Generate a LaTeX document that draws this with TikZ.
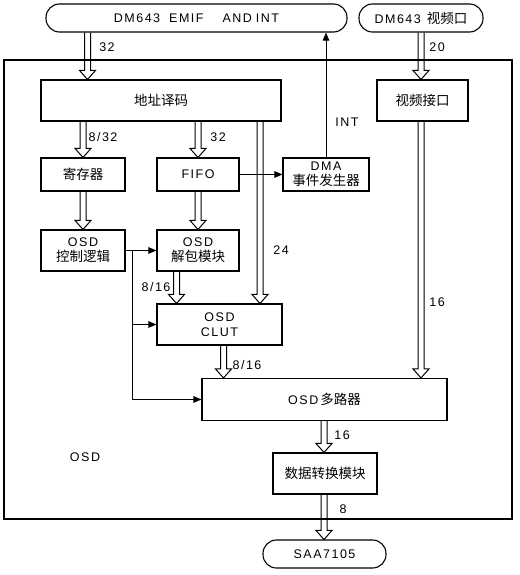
\documentclass[tikz,border=0pt]{standalone}
\usepackage{fontspec}
\setmainfont{Liberation Sans}[LetterSpace=12]
\newfontfamily\cjk{Noto Sans CJK SC}
\newcommand\zh[1]{{\cjk\fontsize{13.5}{17}\selectfont #1}}
\usetikzlibrary{arrows.meta,calc}
\tikzset{
  box/.style={draw, line width=1.1pt, inner sep=0pt, align=center,
    font=\fontsize{12.5}{17}\selectfont},
  term/.style={box, rounded corners=13.5pt},
  lbl/.style={inner sep=0pt, font=\fontsize{12.5}{15}\selectfont},
  sig/.style={draw, line width=1pt, -{Triangle[length=8pt,width=6.5pt]}},
  bus/.style={draw, line width=1pt, line join=miter,
    to path={let \p1=(\tikztostart), \p2=(\tikztotarget) in
      (\x1-3pt,\y1) -- (\x1-3pt,\y2+9pt) -- (\x1-8pt,\y2+9pt) -- (\x1,\y2)
      -- (\x1+8pt,\y2+9pt) -- (\x1+3pt,\y2+9pt) -- (\x1+3pt,\y1)}},
}
\begin{document}
\begin{tikzpicture}[x=1pt,y=-1pt]
\useasboundingbox (0,0) rectangle (519,575);
\fill[white] (0,0) rectangle (519,575);
% outer frame
\draw[line width=1.1pt] (4,60) rectangle (512,519);
% terminals
\node[term, minimum width=301pt, minimum height=28pt] (emif) at (196.5,18)
  {DM643\hspace{9pt}EMIF\hspace{19pt}AND\hspace{4pt}INT};
\node[term, minimum width=124pt, minimum height=28pt] (vport) at (421,18)
  {DM643\hspace{6pt}\zh{视频口}};
\node[term, minimum width=123pt, minimum height=28pt] (saa) at (324.5,554)
  {SAA7105};
% blocks
\node[box, minimum width=240pt, minimum height=41pt] (addr) at (161,100.5) {\zh{地址译码}};
\node[box, minimum width=91pt, minimum height=41pt] (vif) at (422.5,100.5) {\zh{视频接口}};
\node[box, minimum width=84pt, minimum height=33pt] (reg) at (83,174.5) {\zh{寄存器}};
\node[box, minimum width=82pt, minimum height=33pt] (fifo) at (198,174.5) {FIFO};
\node[box, minimum width=86pt, minimum height=33pt] (dma) at (326,174.5) {DMA\\[-2pt]\zh{事件发生器}};
\node[box, minimum width=84pt, minimum height=41pt] (ctrl) at (83,250.5) {OSD\\[-2pt]\zh{控制逻辑}};
\node[box, minimum width=82pt, minimum height=41pt] (unpack) at (198,250.5) {OSD\\[-2pt]\zh{解包模块}};
\node[box, minimum width=125pt, minimum height=41pt] (clut) at (219.5,324.5) {OSD\\[-2pt]CLUT};
\node[box, minimum width=245pt, minimum height=42pt] (mux) at (324.5,399.5) {OSD\hspace{2pt}\zh{多路器}};
\node[box, minimum width=104pt, minimum height=41pt] (conv) at (325,473.5) {\zh{数据转换模块}};
% guide coordinates
\coordinate (x32) at (87.5,0);
\coordinate (x24) at (260,0);
\coordinate (xup) at (176.5,0);
\coordinate (xcl) at (223.5,0);
\coordinate (xmx) at (324,0);
\coordinate (xjn) at (132,0);
% bus arrows
\draw[bus] (emif.south -| x32) to (addr.north);
\draw[bus] (vport.south) to (vif.north);
\draw[bus] (addr.south -| reg.north) to (reg.north);
\draw[bus] (addr.south -| fifo.north) to (fifo.north);
\draw[bus] (addr.south -| x24) to (clut.north);
\draw[bus] (reg.south) to (ctrl.north);
\draw[bus] (fifo.south) to (unpack.north);
\draw[bus] (unpack.south -| xup) to (clut.north);
\draw[bus] (clut.south -| xcl) to (mux.north);
\draw[bus] (vif.south -| vport.south) to (mux.north);
\draw[bus] (mux.south -| xmx) to (conv.north);
\draw[bus] (conv.south -| xmx) to (saa.north);
% signal arrows
\coordinate (jn) at (ctrl.east -| xjn);
\draw[sig] (ctrl.east) -- (unpack.west);
\draw[sig] (jn) |- (mux.west);
\draw[sig] (jn |- clut.west) -- (clut.west);
\draw[sig] (fifo.east) -- (dma.west);
\draw[sig] (dma.north) -- (dma.north |- emif.south);
% labels
\node[lbl] (l1) at (107,47) {32};
\node[lbl] (l2) at (437,47) {20};
\node[lbl] (l3) at (103,137) {8/32};
\node[lbl] (l4) at (218,137) {32};
\node[lbl] (l5) at (347,122) {INT};
\node[lbl] (l6) at (281,250) {24};
\node[lbl] (l7) at (156,287) {8/16};
\node[lbl] (l8) at (437,302) {16};
\node[lbl] (l9) at (247,365) {8/16};
\node[lbl] (l10) at (342,435) {16};
\node[lbl] (l11) at (343,509) {8};
\node[lbl] (l12) at (85,457) {OSD};
\end{tikzpicture}
\end{document}
